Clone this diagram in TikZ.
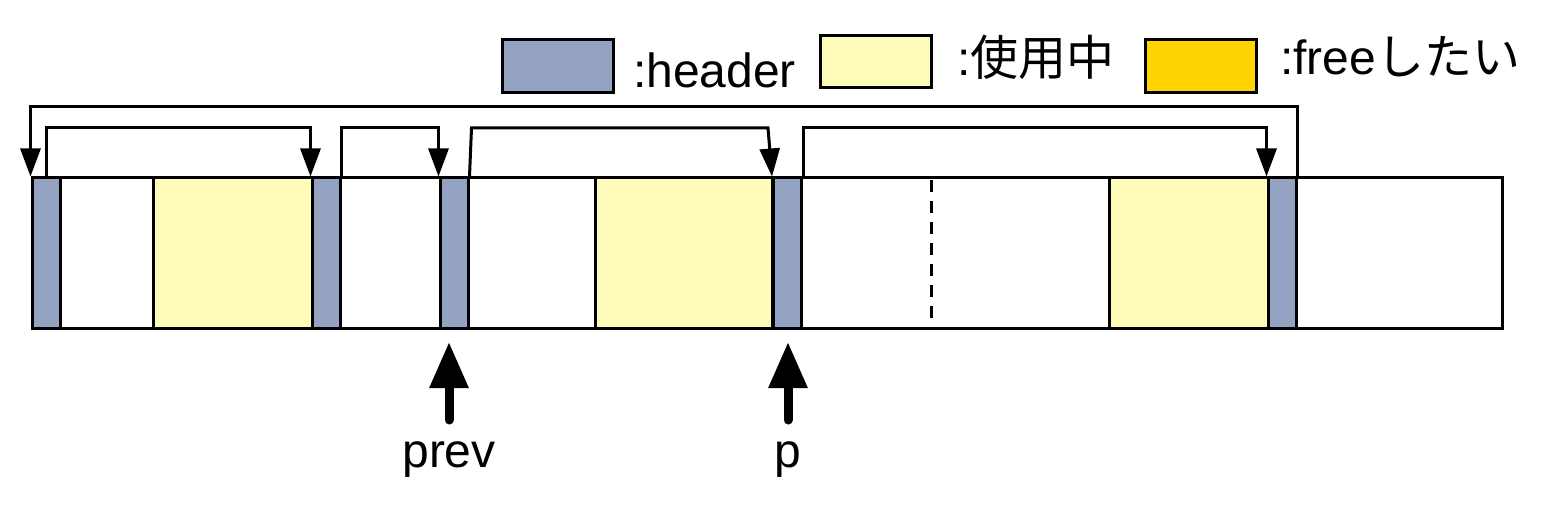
\documentclass[tikz,border=0pt]{standalone}
\usepackage{fontspec}
\setmainfont{Liberation Sans}
\newfontfamily\jp{Noto Sans CJK JP}
\usetikzlibrary{arrows.meta}
\definecolor{hdrblue}{RGB}{148,163,194}
\definecolor{usedyel}{RGB}{255,252,185}
\definecolor{freegold}{RGB}{255,211,0}
\tikzset{
  blk/.style={draw=black, line width=3pt, rectangle, inner sep=0pt, minimum height=150pt},
  hdr/.style={blk, fill=hdrblue},
  used/.style={blk, fill=usedyel},
  lgbox/.style={draw=black, line width=3pt, rectangle, inner sep=0pt, minimum width=111pt, minimum height=53pt},
  conn/.style={line width=3pt, -{Triangle[length=28pt,width=20pt]}},
  ptr/.style={line width=9pt, line cap=round, -{Triangle[length=46pt,width=37pt]}},
  lbl/.style={font=\fontsize{48}{56}\selectfont, inner sep=0pt},
}
\begin{document}
\begin{tikzpicture}[x=1pt,y=-1pt]
\useasboundingbox (0,0) rectangle (1552,505);
\fill[white] (0,0) rectangle (1552,505);
% bar
\node[blk, fill=white, minimum width=1470pt] (bar) at (767,253) {};
% used blocks
\node[used, minimum width=159pt] (y1) at (232.5,253) {};
\node[used, minimum width=177pt] (y2) at (683.5,253) {};
\node[used, minimum width=159pt] (y3) at (1188.5,253) {};
% headers
\node[hdr, minimum width=28pt] (h1) at (46,253) {};
\node[hdr, minimum width=28pt] (h2) at (326,253) {};
\node[hdr, minimum width=28pt] (h3) at (454,253) {};
\node[hdr, minimum width=28pt] (h4) at (787.5,253) {};
\node[hdr, minimum width=28pt] (h5) at (1282,253) {};
% dashed boundary
\draw[line width=3pt, dash pattern=on 12pt off 9pt] (931,180) -- (931,326);
% links
\coordinate (top1) at (0,107);
\coordinate (top2) at (0,128);
\draw[conn] (h5.north east) -- (h5.north east |- top1) -- (h1.north west |- top1) -- (h1.north west);
\draw[conn] (h1.north) -- (h1.north |- top2) -- (h2.north west |- top2) -- (h2.north west);
\draw[conn] (h2.north east) -- (h2.north east |- top2) -- (h3.north west |- top2) -- (h3.north west);
\draw[conn] (h3.north east) -- ([xshift=2pt]h3.north east |- top2) -- ([xshift=-4pt]h4.north west |- top2) -- (h4.north west);
\draw[conn] (h4.north east) -- (h4.north east |- top2) -- (h5.north west |- top2) -- (h5.north west);
% pointers
\node[lbl, anchor=base] (prevlbl) at (449,467) {prev};
\node[lbl, anchor=base] (plbl) at (788,467) {p};
\coordinate (prevtip) at (449,342);
\coordinate (prevtail) at (449,420);
\coordinate (ptip) at (788,342);
\coordinate (ptail) at (788,420);
\draw[ptr] (prevtail) -- (prevtip);
\draw[ptr] (ptail) -- (ptip);
% legend
\node[lgbox, fill=hdrblue] (lg1) at (557.5,66) {};
\node[lbl, anchor=base west] (lt1) at (633,88) {:header};
\node[lgbox, fill=usedyel, minimum height=52pt] (lg2) at (876,62) {};
\node[lbl, anchor=base west] (lt2) at (957,76) {:{\jp 使用中}};
\node[lgbox, fill=freegold] (lg3) at (1201,66) {};
\node[lbl, anchor=base west] (lt3) at (1280,75) {:free{\jp したい}};
\end{tikzpicture}
\end{document}
